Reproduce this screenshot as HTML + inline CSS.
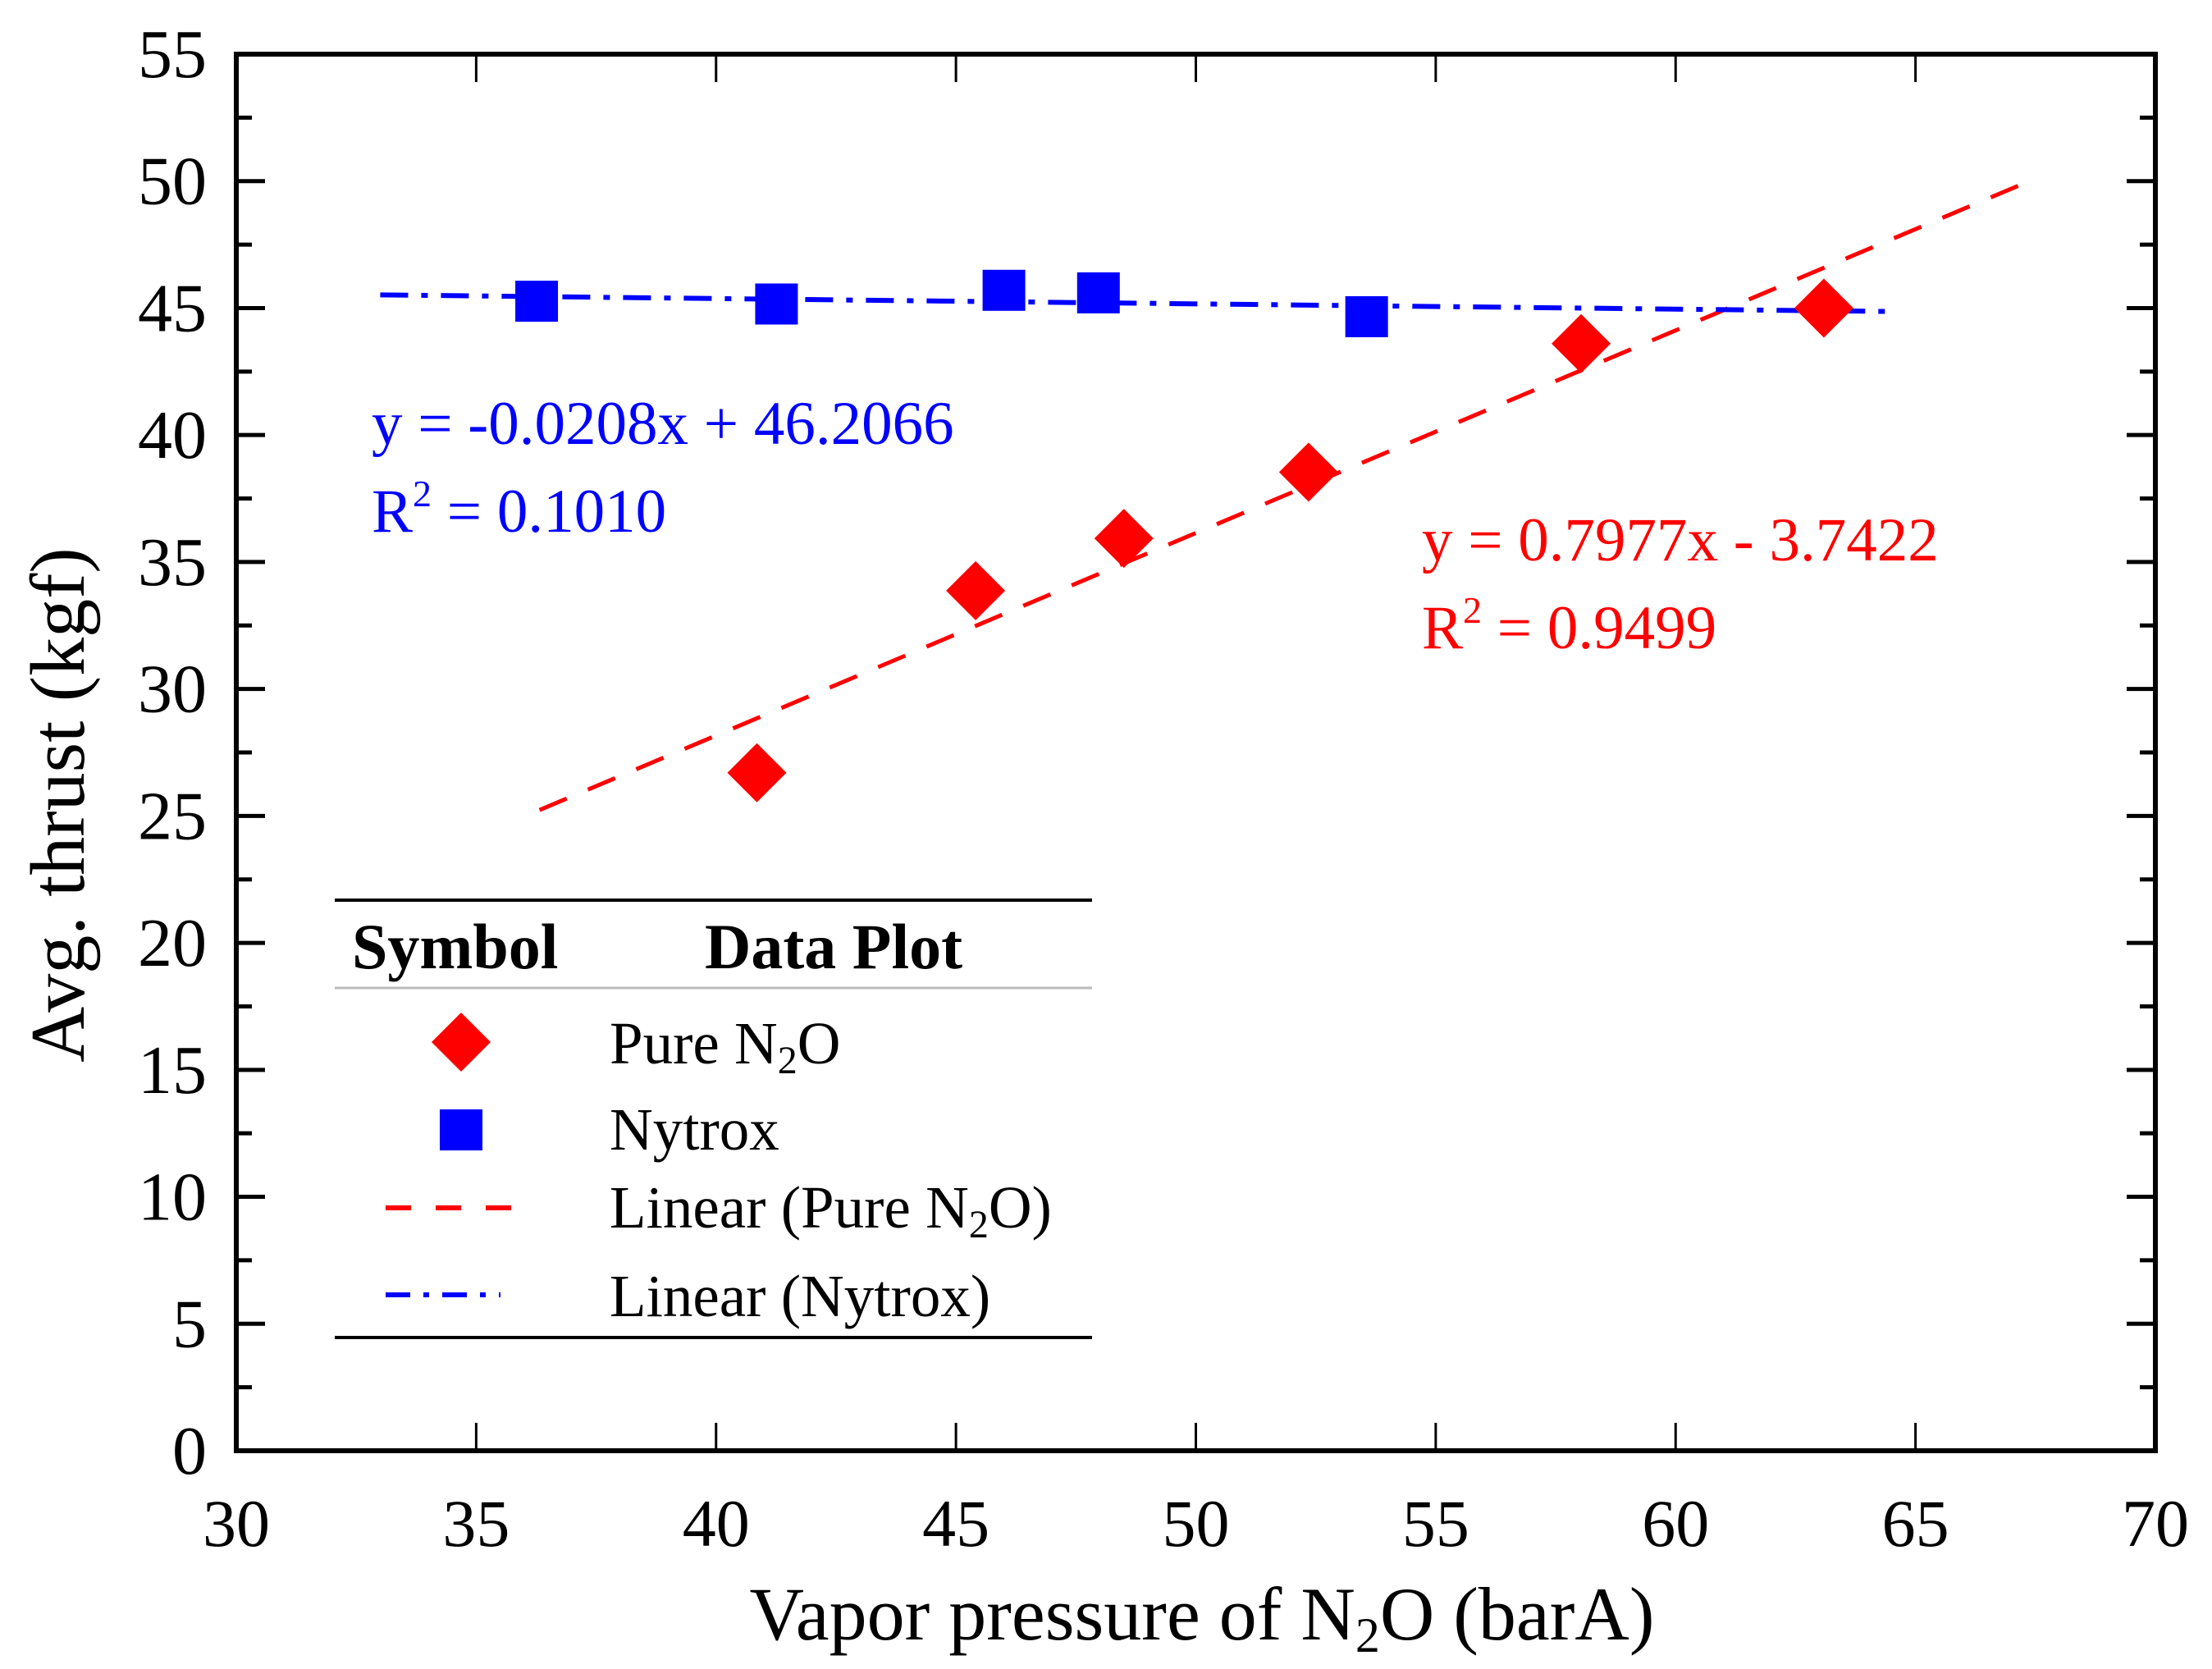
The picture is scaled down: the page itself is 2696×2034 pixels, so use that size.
<!DOCTYPE html>
<html><head><meta charset="utf-8"><style>
html,body{margin:0;padding:0;background:#fff}
svg{display:block}
text{font-family:"Liberation Serif",serif}
</style></head><body>
<svg id="chart" width="2696" height="2034" viewBox="0 0 2696 2034" xmlns="http://www.w3.org/2000/svg">
<g id="axes"></g>
<g id="marks"></g>
<text x="0" y="0" font-size="94" text-anchor="middle" transform="translate(102,981) rotate(-90)">Avg. thrust (kgf)</text>
<text x="1465" y="1998" font-size="92" text-anchor="middle">Vapor pressure of N<tspan font-size="60" dy="15">2</tspan><tspan dy="-15">O (barA)</tspan></text>
<text x="453" y="541" font-size="75" fill="#0000ff">y = -0.0208x + 46.2066</text>
<text x="453" y="648" font-size="75" fill="#0000ff">R<tspan font-size="46" dy="-31">2</tspan><tspan dy="31"> = 0.1010</tspan></text>
<text x="1733" y="683" font-size="75" fill="#ff0000">y = 0.7977x - 3.7422</text>
<text x="1733" y="790" font-size="75" fill="#ff0000">R<tspan font-size="46" dy="-31">2</tspan><tspan dy="31"> = 0.9499</tspan></text>
<g>
<line x1="408" y1="1097" x2="1331" y2="1097" stroke="#000" stroke-width="4"/>
<line x1="408" y1="1204" x2="1331" y2="1204" stroke="#bbb" stroke-width="3"/>
<line x1="408" y1="1630" x2="1331" y2="1630" stroke="#000" stroke-width="4"/>
<text x="429" y="1180" font-size="78" font-weight="bold">Symbol</text>
<text x="859" y="1180" font-size="78" font-weight="bold">Data Plot</text>
<polygon points="562,1234 598,1270 562,1306 526,1270" fill="#ff0000"/>
<rect x="536" y="1352" width="52" height="50" fill="#0000ff"/>
<line x1="470" y1="1472" x2="626" y2="1472" stroke="#ff0000" stroke-width="6" stroke-dasharray="31,30"/>
<line x1="470" y1="1578" x2="610" y2="1578" stroke="#0000ff" stroke-width="6" stroke-dasharray="30,16,7,16"/>
<text x="743" y="1296" font-size="73">Pure N<tspan font-size="48" dy="12">2</tspan><tspan dy="-12">O</tspan></text>
<text x="743" y="1401" font-size="73">Nytrox</text>
<text x="743" y="1496" font-size="73">Linear (Pure N<tspan font-size="48" dy="12">2</tspan><tspan dy="-12">O)</tspan></text>
<text x="743" y="1604" font-size="73">Linear (Nytrox)</text>
</g>
</svg>
<script>
const xTicks = [30,35,40,45,50,55,60,65,70];
const yTicks = [0,5,10,15,20,25,30,35,40,45,50,55];
const pureX = [40.85,45.41,48.5,52.35,58.03,63.09];
const pureY = [26.7,33.87,35.93,38.54,43.6,45.0];
const nytroxX = [36.26,41.26,46.0,47.97,53.56];
const nytroxY = [45.27,45.16,45.7,45.6,44.66];
const pureFit = [0.7977,-3.7422];
const pureFitRange = [36.32,67.5];
const nytroxFit = [-0.0208,46.2066];
const nytroxFitRange = [33.0,64.4];

const L=288,R=2627,T=66,B=1768;
const sx=v=>L+(v-30)/40*(R-L);
const sy=v=>B-(v/55)*(B-T);
const NS='http://www.w3.org/2000/svg';
function mk(tag,attrs,parent){const e=document.createElementNS(NS,tag);for(const k in attrs)e.setAttribute(k,attrs[k]);parent.appendChild(e);return e;}
const axes=document.getElementById('axes');
const marks=document.getElementById('marks');

const frame=mk('rect',{x:L,y:T,width:R-L,height:B-T,fill:'none',stroke:'#000','stroke-width':6},axes);



xTicks.forEach(v=>{
  const x=sx(v);
  const t1=mk('line',{x1:x,y1:B,x2:x,y2:B-34,stroke:'#000','stroke-width':3},axes);
  
  
  const t2=mk('line',{x1:x,y1:T,x2:x,y2:T+34,stroke:'#000','stroke-width':3},axes);
  
  
  const lb=mk('text',{x:x,y:1884,'font-size':82,'text-anchor':'middle'},axes);
  lb.textContent=v;
  
  
});
yTicks.forEach(v=>{
  const y=sy(v);
  const t1=mk('line',{x1:L,y1:y,x2:L+35,y2:y,stroke:'#000','stroke-width':5},axes);
  
  
  const t2=mk('line',{x1:R,y1:y,x2:R-35,y2:y,stroke:'#000','stroke-width':5},axes);
  
  
  if(v<55){
    const m=sy(v+2.5);
    const m1=mk('line',{x1:L,y1:m,x2:L+19,y2:m,stroke:'#000','stroke-width':5},axes);
    
    
    const m2=mk('line',{x1:R,y1:m,x2:R-19,y2:m,stroke:'#000','stroke-width':5},axes);
    
    
  }
  const lb=mk('text',{x:252,y:y+28,'font-size':84,'text-anchor':'end'},axes);
  lb.textContent=v;
  
  
});

const pl=mk('line',{x1:sx(pureFitRange[0]),y1:sy(pureFit[0]*pureFitRange[0]+pureFit[1]),x2:sx(pureFitRange[1]),y2:sy(pureFit[0]*pureFitRange[1]+pureFit[1]),stroke:'#ff0000','stroke-width':5,'stroke-dasharray':'36,28'},marks);


const nl=mk('line',{x1:sx(nytroxFitRange[0]),y1:sy(nytroxFit[0]*nytroxFitRange[0]+nytroxFit[1]),x2:sx(nytroxFitRange[1]),y2:sy(nytroxFit[0]*nytroxFitRange[1]+nytroxFit[1]),stroke:'#0000ff','stroke-width':6,'stroke-dasharray':'34,16,8,16'},marks);



nytroxX.forEach((v,i)=>{
  const x=sx(v),y=sy(nytroxY[i]);
  const r=mk('rect',{x:x-26,y:y-25,width:52,height:50,fill:'#0000ff'},marks);
  
  
});
pureX.forEach((v,i)=>{
  const x=sx(v),y=sy(pureY[i]);
  const p=mk('polygon',{points:`${x},${y-36} ${x+36},${y} ${x},${y+36} ${x-36},${y}`,fill:'#ff0000'},marks);
  
  
});
</script>
</body></html>
